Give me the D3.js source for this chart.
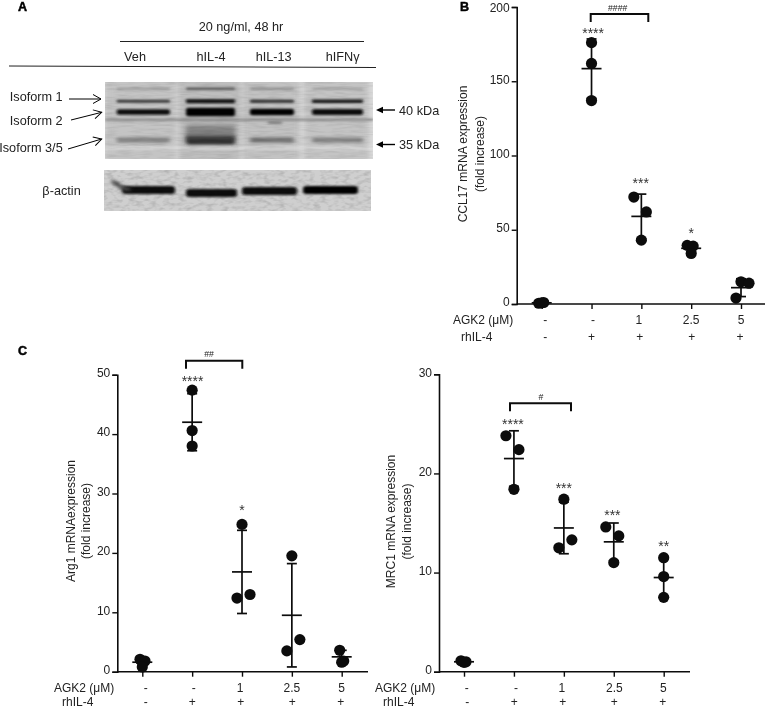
<!DOCTYPE html>
<html><head><meta charset="utf-8">
<script src="https://cdn.jsdelivr.net/npm/d3@7"></script>
<style>
html,body{margin:0;padding:0;background:#fff}
svg{display:block;filter:blur(0.45px)}
text{font-family:"Liberation Sans",Arial,sans-serif;fill:#222}
</style></head><body><svg id="c" width="768" height="709"></svg>
<script>
// ---------- data ----------
const doseLabels = ["-","-","1","2.5","5"];
const il4Labels = ["-","+","+","+","+"];
const groupIds = [0,1,2,3,4];

const ccl17Values = [[0.5,1,0.8],[176,162,137],[72,62,43],[39.5,39,34],[15,14,4]];
const ccl17Means = [0.8,158.5,59,37.5,11];
const ccl17Errors = [0.3,20,15,2.5,6];
const ccl17Stars = ["","****","***","*",""];
const ccl17Ticks = [0,50,100,150,200];

const arg1Values = [[2.1,1.8,0.8],[47.4,40.6,38],[24.8,13,12.4],[19.5,5.4,3.5],[3.6,1.8,1.6]];
const arg1Means = [1.6,42,16.8,9.5,2.5];
const arg1Errors = [0.3,4.8,7,8.7,1.1];
const arg1Stars = ["","****","*","",""];
const arg1Ticks = [0,10,20,30,40,50];

const mrc1Values = [[1.1,1,0.95],[23.8,22.4,18.4],[17.4,13.3,12.5],[14.6,13.7,11],[11.5,9.6,7.5]];
const mrc1Means = [1,21.5,14.5,13.1,9.5];
const mrc1Errors = [0.1,2.8,2.6,1.9,2];
const mrc1Stars = ["","****","***","***","**"];
const mrc1Ticks = [0,10,20,30];

const blotLanes = ["Veh","hIL-4","hIL-13","hIFNγ"];
const band40Strength = [0.95,1,1,0.98];
const bandUpperStrength = [0.72,0.98,0.8,0.92];
const bandTopStrength = [0.2,0.55,0.28,0.15];
const band35Strength = [0.32,0.8,0.42,0.32];
const actinStrength = [0.95,0.98,0.98,1];

// ---------- layout ----------
const ccl17Swarm = [[-3,2,0],[0,0,0],[-7.5,5,0],[-4,2,0],[0,8,-5]];
const arg1Swarm = [[-2.3,2.7,0],[0,0,0],[0,8,-5],[0,8,-5],[-2,2,0]];
const mrc1Swarm = [[-3,2,0],[-8,5,0],[0,8,-5],[-8,5,0],[0,0,0]];
const laneStart = [116.7,186,250,312];
const laneEnd = [170,235,294,363];
const actinStart = [122,186,242,303];
const actinEnd = [175,237,297,358];
const actinY = [190,193,191,190];
const actinTail = [[112,181],[117,184],[122,188],[130,190]];

const svg = d3.select("#c");
const defs = svg.append("defs");
const ink = "#0c0c0c";

function panel(o){
  const y = d3.scaleLinear().domain(o.domain).range([o.y0,o.y1]);
  const x = d3.scalePoint().domain(groupIds).range(o.xr);
  const g = svg.append("g");
  const ya = g.append("g").attr("transform",`translate(${o.ax},0)`)
    .call(d3.axisLeft(y).tickValues(o.ticks).tickSize(5).tickPadding(2));
  // the topmost label of a panel near the page edge stays inside the page
  ya.selectAll("text").attr("font-size",12).attr("fill","#222")
    .attr("dy",d=>(y(d)<12?"0.34em":"0.15em"));
  const xa = g.append("g").attr("transform",`translate(0,${o.y0})`)
    .call(d3.axisBottom(x).tickSize(5).tickFormat(""));
  xa.select(".domain").attr("d",`M${o.ax},0H${o.xEnd}`);
  [ya,xa].forEach(a=>{a.selectAll("line").attr("stroke",ink).attr("stroke-width",1.4);
    a.select(".domain").attr("stroke",ink).attr("stroke-width",1.6);});
  groupIds.forEach(i=>{
    const cx=x(i), cy=y(o.means[i]), top=y(o.means[i]+o.errors[i]), bot=y(Math.max(o.means[i]-o.errors[i],0));
    const s=g.append("g").attr("stroke",ink).attr("stroke-width",1.7);
    s.append("line").attr("x1",cx).attr("x2",cx).attr("y1",top).attr("y2",bot);
    s.append("line").attr("x1",cx-10).attr("x2",cx+10).attr("y1",cy).attr("y2",cy);
    [top,bot].forEach(v=>s.append("line").attr("x1",cx-5).attr("x2",cx+5).attr("y1",v).attr("y2",v));
    g.selectAll(null).data(o.values[i]).join("circle")
      .attr("cx",(d,k)=>cx+o.swarm[i][k]).attr("cy",d=>y(d)).attr("r",5.6).attr("fill",ink);
    if(o.stars[i]) g.append("text").attr("x",cx+o.starDx[i]).attr("y",y(o.starAt[i])-1.5).attr("text-anchor","middle")
      .attr("font-size",14).attr("style","fill:#333").text(o.stars[i]);
  });
  [[o.y0+20,doseLabels,"AGK2 (μM)",o.labelX,o.doseDx],[o.y0+o.row2,il4Labels,"rhIL-4",o.labelX+8,o.il4Dx]].forEach(([yy,labs,name,lx,dx])=>{
    g.append("text").attr("x",lx).attr("y",yy).attr("font-size",12).text(name);
    labs.forEach((t,i)=>g.append("text").attr("x",x(i)+dx[i]).attr("y",yy).attr("text-anchor","middle").attr("font-size",12).text(t));
  });
  const t=g.append("text").attr("transform",`translate(${o.titleX},${o.titleY}) rotate(-90)`).attr("text-anchor","middle").attr("font-size",12);
  t.append("tspan").attr("x",0).attr("dy",0).text(o.title);
  t.append("tspan").attr("x",0).attr("dy",o.titleGap).text("(fold increase)");
  g.append("path").attr("fill","none").attr("stroke",ink).attr("stroke-width",2)
    .attr("d",`M${o.brX[0]},${o.brY+8}V${o.brY}H${o.brX[1]}V${o.brY+8}`);
  g.append("text").attr("x",o.hashX).attr("y",o.brY-3.5).attr("text-anchor","middle").attr("font-size",8.7).text(o.hash);
}

panel({domain:[0,200],y0:304,y1:7,ax:516.7,xEnd:765,xr:[541.7,741],ticks:ccl17Ticks,values:ccl17Values,means:ccl17Means,errors:ccl17Errors,
  swarm:ccl17Swarm,stars:ccl17Stars,starAt:[0,178,76.8,43.4,0],starDx:[0,1.6,-0.6,0,0],labelX:453,row2:36.5,
  doseDx:[3.5,1.5,-2.5,0,0],il4Dx:[3.5,0,-1.5,0.5,-1],title:"CCL17 mRNA expression",titleX:467,titleY:154,titleGap:17,
  brX:[590.7,648.3],brY:14,hash:"####",hashX:617.7});
panel({domain:[0,50],y0:671.7,y1:374.7,ax:117.3,xEnd:368,xr:[142.3,341.7],ticks:arg1Ticks,values:arg1Values,means:arg1Means,errors:arg1Errors,
  swarm:arg1Swarm,stars:arg1Stars,starAt:[0,47.9,26.2,0,0],starDx:[0,0.4,0,0,0],labelX:54,row2:34.3,
  doseDx:[3.5,1.7,-2,0,0],il4Dx:[3.5,0,-1.3,0.3,-1],title:"Arg1 mRNAexpression",titleX:75,titleY:521,titleGap:15,
  brX:[186,242.3],brY:360.7,hash:"##",hashX:209});
panel({domain:[0,30],y0:671.7,y1:374.3,ax:439,xEnd:690,xr:[464,663.7],ticks:mrc1Ticks,values:mrc1Values,means:mrc1Means,errors:mrc1Errors,
  swarm:mrc1Swarm,stars:mrc1Stars,starAt:[0,24.3,17.9,15.2,12.05],starDx:[0,-1,0,-1.4,0],labelX:375,row2:34.3,
  doseDx:[2.7,2,-2,0.6,-0.4],il4Dx:[3.3,0.3,-1,0.6,-1],title:"MRC1 mRNA expression",titleX:395,titleY:521.5,titleGap:16,
  brX:[510,571],brY:403.3,hash:"#",hashX:541});

// panel letters
[["A",18,11],["B",460,11],["C",18,355]].forEach(([t,x,y])=>svg.append("text").attr("x",x).attr("y",y).attr("font-size",12.5).attr("font-weight","bold").attr("style","fill:#000").attr("stroke","#000").attr("stroke-width",0.5).text(t));

// ---------- blot ----------
function blurF(id,sx,sy){defs.append("filter").attr("id",id).attr("x","-30%").attr("y","-200%").attr("width","160%").attr("height","500%")
  .append("feGaussianBlur").attr("stdDeviation",`${sx} ${sy}`);}
blurF("b1",1.8,0.9);blurF("b2",2.2,1.5);blurF("b3",2.5,2.5);blurF("bA",1.8,1.2);
function grainF(id,fx,fy,seed,slope,off){const f=defs.append("filter").attr("id",id).attr("x",0).attr("y",0).attr("width","100%").attr("height","100%");
  f.append("feTurbulence").attr("type","fractalNoise").attr("baseFrequency",`${fx} ${fy}`).attr("numOctaves",2).attr("seed",seed);
  f.append("feColorMatrix").attr("values",`0 0 0 0 0  0 0 0 0 0  0 0 0 0 0  ${slope} 0 0 0 ${off}`);
  f.append("feGaussianBlur").attr("stdDeviation",0.7);}
grainF("grainA",0.06,0.45,4,1.0,-0.4);
grainF("grainB",0.14,0.3,9,1.4,-0.6);

const shade=d3.scaleLinear().domain([0,1]).range(["#bbbbbb","#050505"]);
const clip=defs.append("clipPath").attr("id","blotClip");
clip.append("rect").attr("x",105).attr("y",82).attr("width",268).attr("height",77);
clip.append("rect").attr("x",104).attr("y",170).attr("width",267).attr("height",41);

const blot=svg.append("g").attr("clip-path","url(#blotClip)");
blot.append("rect").attr("x",105).attr("y",82).attr("width",268).attr("height",77).attr("fill","#dcdcdc");
blot.append("rect").attr("x",104).attr("y",170).attr("width",267).attr("height",41).attr("fill","#cfcfcf");
blotLanes.forEach((l,i)=>{
  blot.append("rect").attr("x",laneStart[i]-8).attr("width",laneEnd[i]-laneStart[i]+14).attr("y",78).attr("height",85)
    .attr("fill","#bdbdbd").attr("opacity",0.62+band35Strength[i]*0.45).attr("filter","url(#b3)");
});
blot.append("rect").attr("x",105).attr("y",82).attr("width",9).attr("height",77).attr("fill","#c4c4c4").attr("filter","url(#b3)");
blot.append("rect").attr("x",105).attr("y",118.5).attr("width",268).attr("height",2.6).attr("fill","#6c6c6c").attr("opacity",0.6).attr("filter","url(#b1)");
blot.append("rect").attr("x",105).attr("y",146).attr("width",268).attr("height",4).attr("fill","#fff").attr("opacity",0.25).attr("filter","url(#b1)");
function bands(values,yy,hs,rx,flt){
  blotLanes.forEach((l,i)=>{
    blot.append("rect").attr("x",laneStart[i]).attr("width",laneEnd[i]-laneStart[i]).attr("y",yy-hs[i]/2).attr("height",hs[i]).attr("rx",rx)
      .attr("fill",shade(values[i])).attr("filter",`url(#${flt})`);
  });
}
bands(bandTopStrength,88.7,[2,2.5,2,2],1,"b1");
bands(bandUpperStrength,101.3,[3,4,3,3.4],1,"b1");
bands(band40Strength,112,[5.5,8.5,6.5,6],2,"b1");
bands(band35Strength,140,[5,9,5,5],2,"b2");
blot.append("rect").attr("x",laneStart[1]).attr("width",laneEnd[1]-laneStart[1]).attr("y",125).attr("height",14).attr("fill","#5b5b5b").attr("opacity",0.6).attr("filter","url(#b3)");
blot.append("rect").attr("x",268).attr("width",14).attr("y",121).attr("height",3).attr("fill","#888").attr("filter","url(#b1)");
// actin
blotLanes.forEach((l,i)=>{
  blot.append("rect").attr("x",actinStart[i]).attr("width",actinEnd[i]-actinStart[i]).attr("y",actinY[i]-4).attr("height",8).attr("rx",3)
    .attr("fill",shade(actinStrength[i])).attr("filter","url(#bA)");
});
blot.append("path").attr("d",d3.line().curve(d3.curveBasis)(actinTail))
  .attr("fill","none").attr("stroke","#444").attr("stroke-width",4).attr("filter","url(#b2)");
blot.append("rect").attr("x",105).attr("y",82).attr("width",268).attr("height",77).attr("filter","url(#grainA)").attr("opacity",0.16);
blot.append("rect").attr("x",104).attr("y",170).attr("width",267).attr("height",41).attr("filter","url(#grainB)").attr("opacity",0.22);

// ---------- blot annotation ----------
[["20 ng/ml, 48 hr",241,31],["Veh",135,61],["hIL-4",211,61],["hIL-13",273.7,61],["hIFNγ",342.7,61]].forEach(([t,x,y])=>
  svg.append("text").attr("x",x).attr("y",y).attr("text-anchor","middle").attr("font-size",12.7).text(t));
svg.append("line").attr("x1",120).attr("x2",364).attr("y1",41.5).attr("y2",41.5).attr("stroke","#222").attr("stroke-width",1.1);
svg.append("line").attr("x1",9).attr("x2",376).attr("y1",66).attr("y2",67.5).attr("stroke","#222").attr("stroke-width",1.1);

[["Isoform 1",62.7,100.5],["Isoform 2",62.7,125],["Isoform 3/5",62.7,152]].forEach(([t,x,y])=>
  svg.append("text").attr("x",x).attr("y",y).attr("text-anchor","end").attr("font-size",12.7).text(t));
svg.append("text").attr("x",80.7).attr("y",195).attr("text-anchor","end").attr("font-size",12.7).text("β-actin");
[[69,99,101,99],[71,120,101.7,112.3],[68,149,101.7,139]].forEach(([a,b,c,d])=>{
  svg.append("line").attr("x1",a).attr("y1",b).attr("x2",c).attr("y2",d).attr("stroke","#000").attr("stroke-width",1);
  const ang=Math.atan2(d-b,c-a)*180/Math.PI;
  svg.append("path").attr("transform",`translate(${c},${d}) rotate(${ang})`).attr("d","M-8,-4.5L0,0L-8,4.5").attr("fill","none").attr("stroke","#000").attr("stroke-width",1);
});
[[395,110,"40 kDa"],[395,144.5,"35 kDa"]].forEach(([x,y,t])=>{
  svg.append("line").attr("x1",x).attr("y1",y).attr("x2",380).attr("y2",y).attr("stroke","#000").attr("stroke-width",1.4);
  svg.append("path").attr("d",`M376,${y}l7,-3.2v6.4z`).attr("fill","#000");
  svg.append("text").attr("x",399).attr("y",y+4.5).attr("font-size",12.7).text(t);
});
</script></body></html>
